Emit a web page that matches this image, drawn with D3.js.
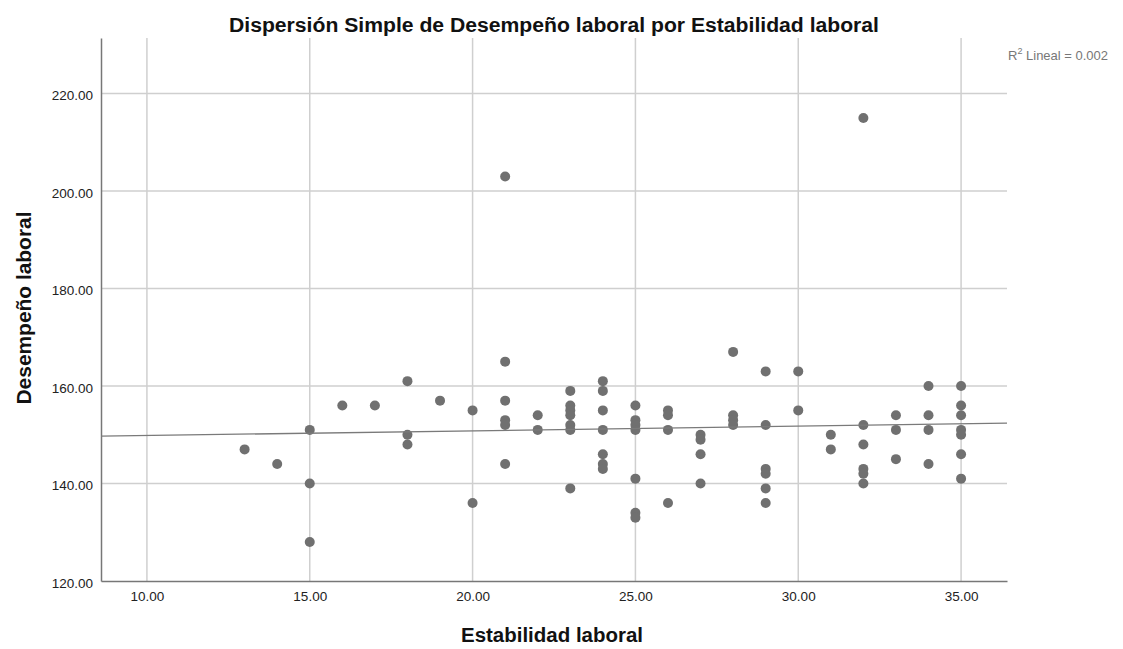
<!DOCTYPE html>
<html>
<head>
<meta charset="utf-8">
<script src="https://cdn.jsdelivr.net/npm/d3@7"></script>
<style>
  body { margin: 0; background: #fff; }
  svg { font-family: "Liberation Sans", Arial, sans-serif; }
</style>
</head>
<body>
<svg id="chart" width="1123" height="649"></svg>
<script>
// Estabilidad laboral (x) and Desempeño laboral (y)
var estabilidad = [13, 14, 15, 15, 15, 16, 17, 18, 18, 18, 19, 20, 20,
    21, 21, 21, 21, 21, 21, 22, 22,
    23, 23, 23, 23, 23, 23, 23,
    24, 24, 24, 24, 24, 24, 24,
    25, 25, 25, 25, 25, 25, 25,
    26, 26, 26, 26, 27, 27, 27, 27,
    28, 28, 28, 28,
    29, 29, 29, 29, 29, 29, 30, 30, 31, 31,
    32, 32, 32, 32, 32, 32, 33, 33, 33,
    34, 34, 34, 34,
    35, 35, 35, 35, 35, 35, 35];
var desempeno = [147, 144, 151, 140, 128, 156, 156, 161, 150, 148, 157, 155, 136,
    203, 165, 157, 153, 152, 144, 154, 151,
    159, 156, 155, 154, 152, 151, 139,
    161, 159, 155, 151, 146, 144, 143,
    156, 153, 152, 151, 141, 134, 133,
    155, 154, 151, 136, 150, 149, 146, 140,
    167, 154, 153, 152,
    163, 152, 143, 142, 139, 136, 163, 155, 150, 147,
    215, 152, 148, 143, 142, 140, 154, 151, 145,
    160, 154, 151, 144,
    160, 156, 154, 151, 150, 146, 141];
var xTicks = [10, 15, 20, 25, 30, 35];
var yTicks = [120, 140, 160, 180, 200, 220];
// fitted line as drawn (R2 lineal = 0.002)
var fitIntercept = 148.87;
var fitSlope = 0.097;
var r2Text = "0.002";

var svg = d3.select("#chart");
var plotLeft = 101, plotRight = 1007, plotTop = 38, plotBottom = 581;
var x = d3.scaleLinear().domain([8.59, 36.41]).range([plotLeft, plotRight]);
var y = d3.scaleLinear().domain([120, 231.4]).range([plotBottom, plotTop]);

// grid
svg.append("g").selectAll("line").data(yTicks.slice(1)).enter().append("line")
    .attr("x1", plotLeft).attr("x2", plotRight)
    .attr("y1", d => y(d)).attr("y2", d => y(d))
    .attr("stroke", "#cfcfcf").attr("stroke-width", 1.5);
svg.append("g").selectAll("line").data(xTicks).enter().append("line")
    .attr("y1", plotTop).attr("y2", plotBottom)
    .attr("x1", d => x(d)).attr("x2", d => x(d))
    .attr("stroke", "#cfcfcf").attr("stroke-width", 1.5);

// axes
var xAxis = svg.append("g").attr("transform", "translate(0," + plotBottom + ")")
    .call(d3.axisBottom(x).tickValues(xTicks).tickSize(0).tickPadding(10).tickFormat(d3.format(".2f")));
var yAxis = svg.append("g").attr("transform", "translate(" + plotLeft + ",0)")
    .call(d3.axisLeft(y).tickValues(yTicks).tickSize(0).tickPadding(8).tickFormat(d3.format(".2f")));
[xAxis, yAxis].forEach(function (g) {
    g.select(".domain").attr("stroke", "#777").attr("stroke-width", 1.5);
    g.selectAll("text").attr("font-size", 13.5).attr("fill", "#222")
        .attr("font-family", "'Liberation Sans', Arial, sans-serif");
});
yAxis.selectAll("text").attr("dy", "0.45em");

// points
svg.append("g").selectAll("circle").data(estabilidad).enter().append("circle")
    .attr("cx", (d, i) => x(d))
    .attr("cy", (d, i) => y(desempeno[i]))
    .attr("r", 5)
    .attr("fill", "#707070");

// regression line
var xd = x.domain();
svg.append("line")
    .attr("x1", x(xd[0])).attr("y1", y(fitIntercept + fitSlope * xd[0]))
    .attr("x2", x(xd[1])).attr("y2", y(fitIntercept + fitSlope * xd[1]))
    .attr("stroke", "#7a7a7a").attr("stroke-width", 1.3);

// texts
svg.append("text").attr("x", 554).attr("y", 32).attr("text-anchor", "middle")
    .attr("font-size", 20).attr("font-weight", "bold").attr("fill", "#111")
    .attr("textLength", 650).attr("lengthAdjust", "spacingAndGlyphs")
    .text("Dispersión Simple de Desempeño laboral por Estabilidad laboral");
svg.append("text").attr("x", 552).attr("y", 642).attr("text-anchor", "middle")
    .attr("font-size", 20).attr("font-weight", "bold").attr("fill", "#111")
    .attr("textLength", 182).attr("lengthAdjust", "spacingAndGlyphs")
    .text("Estabilidad laboral");
svg.append("text").attr("transform", "translate(31,308) rotate(-90)").attr("text-anchor", "middle")
    .attr("font-size", 20).attr("font-weight", "bold").attr("fill", "#111")
    .attr("textLength", 193).attr("lengthAdjust", "spacingAndGlyphs")
    .text("Desempeño laboral");

var r2 = svg.append("text").attr("x", 1008).attr("y", 60)
    .attr("font-size", 13).attr("fill", "#777");
r2.append("tspan").text("R");
r2.append("tspan").attr("font-size", 9).attr("dy", -6).text("2");
r2.append("tspan").attr("dy", 6).text(" Lineal = " + r2Text);
</script>
</body>
</html>
